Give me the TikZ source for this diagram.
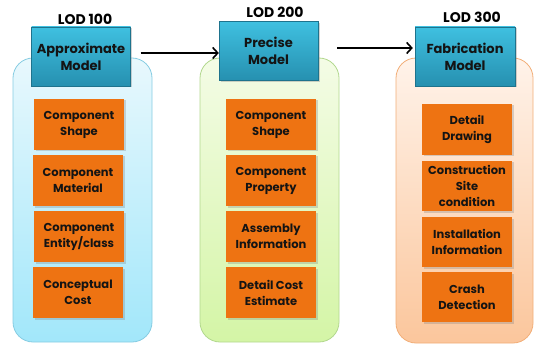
\documentclass[tikz,border=0pt]{standalone}
\usepackage{fontspec}
\setmainfont{Poppins}
\usetikzlibrary{arrows.meta,shadows}

\definecolor{hdrtop}{HTML}{3FC0E0}
\definecolor{hdrbot}{HTML}{2690B0}
\definecolor{boxorange}{HTML}{EE7312}
\definecolor{blueTop}{HTML}{E8F8FD}
\definecolor{blueBot}{HTML}{A2E7FA}
\definecolor{blueEdge}{HTML}{86CCE2}
\definecolor{greenTop}{HTML}{F4FCE6}
\definecolor{greenBot}{HTML}{D4F5A6}
\definecolor{greenEdge}{HTML}{B2D88E}
\definecolor{peachTop}{HTML}{FFF3EA}
\definecolor{peachBot}{HTML}{FBC69C}
\definecolor{peachEdge}{HTML}{F2AE78}
\definecolor{txt}{HTML}{141414}

\tikzset{
  panel/.style={draw=#1Edge, line width=0.8pt, rounded corners=20pt,
    top color=#1Top, bottom color=#1Bot, minimum width=139pt, inner sep=0pt},
  header/.style={draw=hdrbot!80!black, line width=0.4pt,
    top color=hdrtop, bottom color=hdrbot,
    minimum width=99pt, minimum height=59pt, align=center, text=txt,
    font=\fontsize{13}{17}\selectfont\bfseries,
    drop shadow={shadow xshift=1.5pt, shadow yshift=-1.5pt, opacity=0.35}},
  item/.style={fill=boxorange, minimum width=90pt, minimum height=51pt,
    align=center, text=txt, inner sep=1pt,
    font=\fontsize{11.5}{16}\selectfont\bfseries,
    drop shadow={shadow xshift=1.5pt, shadow yshift=-1.5pt, opacity=0.3}},
  lod/.style={font=\fontsize{14}{16}\selectfont\bfseries, text=black},
  flow/.style={line width=2pt, -{Straight Barb[length=5pt,width=11pt,line width=1.6pt]}}
}

\begin{document}
\begin{tikzpicture}[x=1pt, y=-1pt]
\useasboundingbox (0,0) rectangle (534,347);

% column containers
\node[panel=blue,  minimum height=284pt] (p1) at (82.5,200) {};
\node[panel=green, minimum height=284pt] (p2) at (269.5,200) {};
\node[panel=peach, minimum height=285pt, minimum width=137pt] (p3) at (464.5,200.5) {};

% level labels
\node[lod] (l1) at (85,19) {LOD 100};
\node[lod] (l2) at (275,12) {LOD 200};
\node[lod] (l3) at (472,17) {LOD 300};

% model headers
\node[header] (h1) at (81,56.5) {Approximate\\Model};
\node[header] (h2) at (268.5,51) {Precise\\Model};
\node[header, minimum width=100pt] (h3) at (465,56.5) {Fabrication\\Model};

% LOD 100 contents
\node[item] (a1) at (79,124.5) {Component\\Shape};
\node[item] (a2) at (78,180.5) {Component\\Material};
\node[item] (a3) at (79,236.5) {Component\\Entity/class};
\node[item] (a4) at (78,292.5) {Conceptual\\Cost};

% LOD 200 contents
\node[item] (b1) at (271,124.5) {Component\\Shape};
\node[item] (b2) at (271,180.5) {Component\\Property};
\node[item] (b3) at (271,236.5) {Assembly\\Information};
\node[item] (b4) at (271,292.5) {Detail Cost\\Estimate};

% LOD 300 contents
\node[item] (c1) at (467,129.5) {Detail\\Drawing};
\node[item, minimum height=50pt] (c2) at (467,186) {Construction\\Site\\condition};
\node[item, minimum height=50pt] (c3) at (467,242) {Installation\\Information};
\node[item, minimum height=50pt] (c4) at (467,297) {Crash\\Detection};

% progression arrows
\draw[flow] ([xshift=10pt,yshift=3.5pt]h1.east) -- ([yshift=-2pt]h2.west);
\draw[flow] ([xshift=19pt,yshift=3pt]h2.east) -- ([xshift=-2pt,yshift=8.5pt]h3.west);
\end{tikzpicture}
\end{document}
